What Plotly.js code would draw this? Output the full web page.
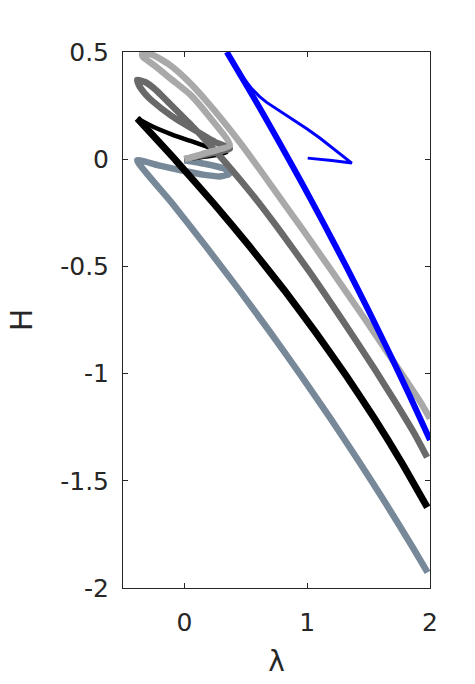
<!DOCTYPE html>
<html>
<head>
<meta charset="utf-8">
<script src="https://cdn.plot.ly/plotly-3.0.1.min.js"></script>
<style>html,body{margin:0;padding:0;background:#fff;}#chart{width:475px;height:684px;}</style>
</head>
<body>
<div id="chart"></div>
<script>
// Slate-gray branch: small loop near the origin, then the long descending line
const slateX = [0.0, 0.17, 0.33, 0.365, 0.3, 0.15, 0.0, -0.2, -0.384, -0.101, 0.173, 0.439, 0.696, 0.944, 1.185, 1.416, 1.639, 1.854, 1.98];
const slateY = [-0.005, -0.022, -0.045, -0.068, -0.08, -0.072, -0.055, -0.03, -0.005, -0.205, -0.405, -0.605, -0.805, -1.005, -1.205, -1.405, -1.605, -1.805, -1.927];
// Black branch (main line) and its thinner return segment
const blackX = [-0.384, -0.063, 0.244, 0.535, 0.812, 1.072, 1.318, 1.549, 1.764, 1.978];
const blackY = [0.19, -0.01, -0.21, -0.41, -0.61, -0.81, -1.01, -1.21, -1.41, -1.624];
const blackThinX = [0.0, 0.18, 0.34, 0.2, 0.05, -0.1, -0.25, -0.384];
const blackThinY = [0.0, 0.012, 0.03, 0.055, 0.085, 0.115, 0.15, 0.19];
// Dark-gray branch
const dgrayX = [0.0, 0.2, 0.37, 0.25, 0.1, -0.1, -0.26, -0.32, -0.37, -0.384, -0.32, -0.23, -0.14, 0.035, 0.20, 0.355, 0.596, 0.772, 1.024, 1.184, 1.378, 1.549, 1.714, 1.872, 1.976];
const dgrayY = [0.0, 0.025, 0.05, 0.08, 0.13, 0.2, 0.271, 0.305, 0.345, 0.37, 0.36, 0.322, 0.271, 0.171, 0.071, -0.029, -0.196, -0.329, -0.529, -0.663, -0.829, -0.979, -1.129, -1.279, -1.39];
// Light-gray branch
const lgrayX = [0.0, 0.18, 0.37, 0.2, 0.05, -0.1, -0.25, -0.335, -0.345, -0.26, -0.12, 0.02, 0.18, 0.462, 0.715, 0.964, 1.209, 1.450, 1.686, 1.918, 2.0];
const lgrayY = [0.0, 0.03, 0.065, 0.2, 0.30, 0.37, 0.44, 0.475, 0.49, 0.487, 0.44, 0.37, 0.271, 0.071, -0.129, -0.329, -0.529, -0.729, -0.929, -1.129, -1.21];
// Blue branches
const blueX = [0.345, 0.557, 0.756, 0.951, 1.139, 1.322, 1.499, 1.670, 1.836, 2.0];
const blueY = [0.5, 0.295, 0.095, -0.105, -0.305, -0.505, -0.705, -0.905, -1.105, -1.31];
const blueThinX = [0.351, 0.42, 0.49, 0.55, 0.61, 0.67, 0.73, 0.8, 0.9, 1.0, 1.1, 1.2, 1.3, 1.363, 1.2, 1.004];
const blueThinY = [0.495, 0.432, 0.372, 0.328, 0.293, 0.265, 0.243, 0.218, 0.18, 0.141, 0.1, 0.055, 0.01, -0.018, -0.006, 0.005];

const xTicks = [0, 1, 2];
const xTickText = ["0", "1", "2"];
const yTicks = [-2, -1.5, -1, -0.5, 0, 0.5];
const yTickText = ["-2", "-1.5", "-1", "-0.5", "0", "0.5"];

function tr(x, y, color, width, shape) {
  return {x: x, y: y, type: 'scatter', mode: 'lines', hoverinfo: 'skip',
          line: {color: color, width: width, shape: shape || 'spline', smoothing: 0.5}};
}
const data = [
  tr(slateX, slateY, '#778899', 6.5),
  tr(blackThinX, blackThinY, '#000000', 4.5),
  tr(blackX, blackY, '#000000', 7),
  tr(dgrayX, dgrayY, '#696969', 6.5),
  tr(lgrayX, lgrayY, '#a9a9a9', 6.5),
  tr(blueX, blueY, '#0000ff', 6),
  tr(blueThinX, blueThinY, '#0000ff', 3, 'linear')
];
const FONT = 'DejaVu Sans, Liberation Sans, Arial, sans-serif';
const axisCommon = {
  showgrid: false, zeroline: false, showline: true, mirror: 'ticks',
  linecolor: '#262626', linewidth: 1, ticks: 'inside', ticklen: 5,
  tickcolor: '#262626', tickwidth: 1,
  tickfont: {family: FONT, size: 25, color: '#262626'}
};
const layout = {
  width: 475, height: 684,
  margin: {l: 123, r: 45, t: 52, b: 96},
  paper_bgcolor: '#ffffff', plot_bgcolor: '#ffffff',
  showlegend: false,
  xaxis: Object.assign({}, axisCommon, {
    range: [-0.5, 2], tickmode: 'array', tickvals: xTicks, ticktext: xTickText,
    ticklabelstandoff: 12,
    title: {text: 'λ', font: {family: FONT, size: 28, color: '#262626'}, standoff: 15}
  }),
  yaxis: Object.assign({}, axisCommon, {
    range: [-2, 0.5], tickmode: 'array', tickvals: yTicks, ticktext: yTickText,
    ticklabelstandoff: 8,
    title: {text: 'H', font: {family: FONT, size: 30, color: '#262626'}, standoff: 18}
  })
};
Plotly.newPlot('chart', data, layout, {staticPlot: true, displayModeBar: false});
</script>
</body>
</html>
